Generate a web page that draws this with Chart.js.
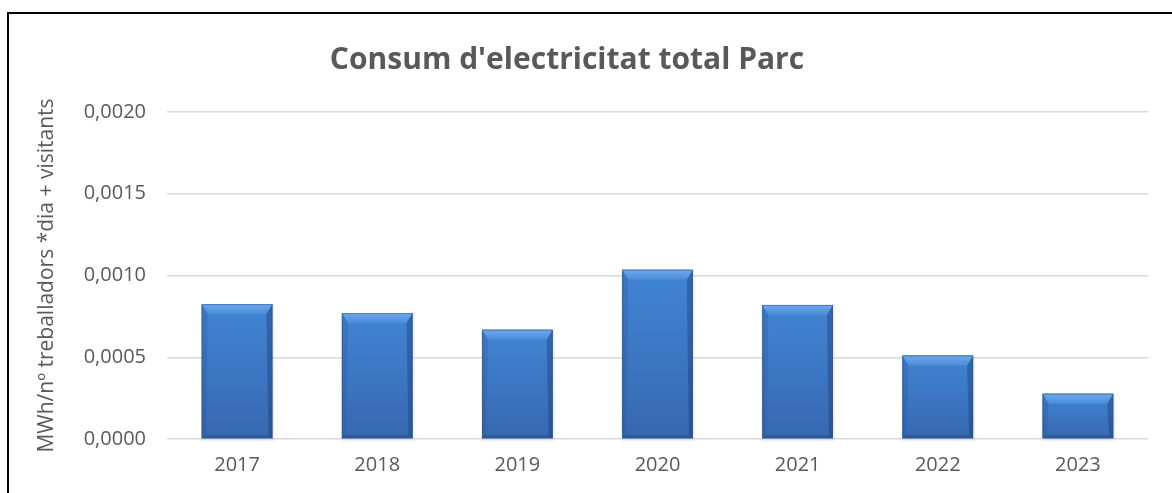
<!DOCTYPE html>
<html>
<head>
<meta charset="utf-8">
<script src="https://cdn.jsdelivr.net/npm/chart.js@4.4.0/dist/chart.umd.min.js"></script>
<style>
  html, body { margin: 0; padding: 0; background: #fff; overflow: hidden; }
  #frame { position: absolute; left: 7px; top: 12px; width: 1180px; height: 500px;
           border: 2px solid #000; background: #fff; }
  #chart { position: absolute; left: 0; top: 0; }
</style>
</head>
<body>
<div id="frame"><canvas id="chart" width="1163" height="479"></canvas></div>
<script>
// Data
const years = ['2017', '2018', '2019', '2020', '2021', '2022', '2023'];
const consum = [0.000825, 0.00077, 0.000668, 0.001035, 0.00082, 0.000511, 0.000277];
const yTicks = [0, 0.0005, 0.001, 0.0015, 0.002];

const titleText = "Consum d'electricitat total Parc";
const yTitle = 'MWh/nº treballadors *dia + visitants';
const grey = '#595959';
const font = "'Open Sans', 'DejaVu Sans', sans-serif";

// Draws the chart title a bit left of the plot centre, as in the original
const titlePlugin = {
  id: 'titlePlugin',
  afterDraw(chart) {
    const ctx = chart.ctx;
    ctx.save();
    ctx.font = 'bold 30px ' + font;
    ctx.fillStyle = grey;
    ctx.textAlign = 'center';
    ctx.textBaseline = 'middle';
    ctx.fillText(titleText, 558, 46);
    ctx.restore();
  }
};

// Bevel look on each bar, using the element's own geometry
const bevelPlugin = {
  id: 'bevelPlugin',
  beforeDatasetsDraw(chart) {
    const ctx = chart.ctx;
    chart.getDatasetMeta(0).data.forEach(bar => {
      const l = bar.x - bar.width / 2, r = bar.x + bar.width / 2;
      ctx.save();
      ctx.fillStyle = 'rgba(0,0,0,0.06)';
      ctx.fillRect(l - 1, bar.y, r - l + 3, bar.base - bar.y + 3);
      ctx.restore();
    });
  },
  afterDatasetsDraw(chart) {
    const ctx = chart.ctx;
    chart.getDatasetMeta(0).data.forEach(bar => {
      const l = bar.x - bar.width / 2, r = bar.x + bar.width / 2;
      const t = bar.y, b = bar.base;
      const bt = 10, bs = 4, bb = 3;
      ctx.save();
      // body gradient
      const g = ctx.createLinearGradient(0, t, 0, b);
      g.addColorStop(0, '#4185d4');
      g.addColorStop(1, '#3768b0');
      ctx.fillStyle = g;
      ctx.fillRect(l, t, r - l, b - t);
      // top bevel
      ctx.beginPath();
      ctx.moveTo(l, t); ctx.lineTo(r, t); ctx.lineTo(r - bs - 2, t + bt); ctx.lineTo(l + bs + 2, t + bt); ctx.closePath();
      const gt = ctx.createLinearGradient(0, t, 0, t + bt);
      gt.addColorStop(0, '#6eaaec');
      gt.addColorStop(1, '#4a8cda');
      ctx.fillStyle = gt;
      ctx.fill();
      // left side
      ctx.beginPath();
      ctx.moveTo(l, t); ctx.lineTo(l + bs + 2, t + bt); ctx.lineTo(l + bs, b - bb); ctx.lineTo(l, b); ctx.closePath();
      ctx.fillStyle = 'rgba(40,80,140,0.25)';
      ctx.fill();
      // right side
      ctx.beginPath();
      ctx.moveTo(r, t); ctx.lineTo(r - bs - 2, t + bt); ctx.lineTo(r - bs, b - bb); ctx.lineTo(r, b); ctx.closePath();
      ctx.fillStyle = 'rgba(20,50,100,0.35)';
      ctx.fill();
      // bottom
      ctx.beginPath();
      ctx.moveTo(l, b); ctx.lineTo(l + bs, b - bb); ctx.lineTo(r - bs, b - bb); ctx.lineTo(r, b); ctx.closePath();
      ctx.fillStyle = 'rgba(20,45,90,0.25)';
      ctx.fill();
      ctx.strokeStyle = 'rgba(40,80,140,0.5)';
      ctx.lineWidth = 1;
      ctx.strokeRect(l + 0.5, t + 0.5, r - l - 1, b - t - 1);
      ctx.restore();
    });
  }
};

new Chart(document.getElementById('chart'), {
  type: 'bar',
  data: {
    labels: years,
    datasets: [{
      data: consum,
      backgroundColor: '#3c7bc9',
      borderWidth: 0,
      barPercentage: 0.504,
      categoryPercentage: 1
    }]
  },
  options: {
    responsive: false,
    animation: false,
    layout: { padding: { top: 98, right: 24, bottom: 0, left: 0 } },
    plugins: { legend: { display: false }, tooltip: { enabled: false }, title: { display: false } },
    scales: {
      x: {
        afterFit(scale) { scale.height = 54; },
        grid: { display: false, drawTicks: false },
        border: { display: false },
        ticks: { color: grey, font: { family: font, size: 20 }, padding: 14 }
      },
      y: {
        min: 0, max: 0.002,
        afterFit(scale) { scale.width = 158; },
        afterBuildTicks(scale) { scale.ticks = yTicks.map(v => ({ value: v })); },
        grid: { color: '#d9d9d9', lineWidth: 1.5, drawTicks: false },
        border: { display: false },
        ticks: {
          color: grey, font: { family: font, size: 20 }, padding: 21,
          callback: v => v.toFixed(4).replace('.', ',')
        },
        title: {
          display: true, text: yTitle, color: grey,
          font: { family: font, size: 21 }, padding: { top: 25, bottom: 0 }
        }
      }
    }
  },
  plugins: [titlePlugin, bevelPlugin]
});
</script>
</body>
</html>
